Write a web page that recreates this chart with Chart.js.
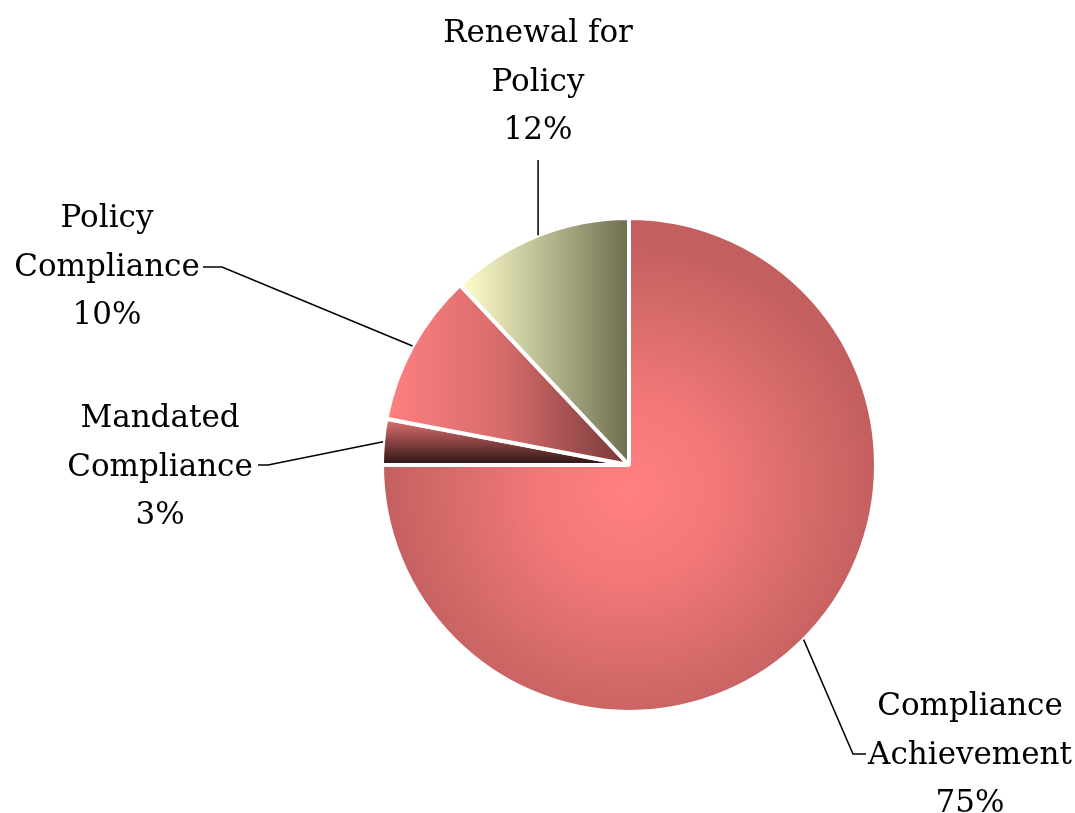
<!DOCTYPE html>
<html>
<head>
<meta charset="utf-8">
<script src="https://cdn.jsdelivr.net/npm/chart.js@4/dist/chart.umd.min.js"></script>
<style>
  html, body { margin: 0; padding: 0; background: #fff; }
  #wrap { width: 1075px; height: 813px; position: relative; }
</style>
</head>
<body>
<div id="wrap"><canvas id="pieChart"></canvas></div>
<script>
// categories (each label split into its lines) and values
const categories = [
  ['Compliance', 'Achievement'],
  ['Mandated', 'Compliance'],
  ['Policy', 'Compliance'],
  ['Renewal for', 'Policy']
];
const shares = [75, 3, 10, 12];

// where each label sits and how its leader line bends
const labelLayout = [
  { x: 970, y: 715, elbow: [853, 754], end: [866, 754] },
  { x: 160, y: 427, elbow: [268, 465], end: [258, 465] },
  { x: 107, y: 227, elbow: [222, 267], end: [203, 267] },
  { x: 538, y: 42, elbow: null, end: null, top: 160 }
];

// gradient fill per slice, built from the pie geometry
function sliceFill(context) {
  const chart = context.chart;
  const area = chart.chartArea;
  const i = context.dataIndex;
  const flat = ['#e07070', '#803838', '#d06868', '#b8b890'];
  if (!area) return flat[i];
  const c = chart.ctx;
  const cx = (area.left + area.right) / 2;
  const cy = (area.top + area.bottom) / 2;
  const r = Math.min(area.right - area.left, area.bottom - area.top) / 2;
  let g;
  if (i === 0) {
    g = c.createRadialGradient(cx, cy + 25, 0, cx, cy + 25, r);
    g.addColorStop(0, '#ff8080');
    g.addColorStop(0.35, '#f47878');
    g.addColorStop(0.75, '#d46a6a');
    g.addColorStop(1, '#c45f5f');
  } else if (i === 1) {
    g = c.createLinearGradient(0, cy - r * 0.19, 0, cy);
    g.addColorStop(0, '#e47676');
    g.addColorStop(0.5, '#8c4444');
    g.addColorStop(1, '#2c1414');
  } else if (i === 2) {
    g = c.createLinearGradient(cx - r * 0.97, 0, cx, 0);
    g.addColorStop(0, '#ff8080');
    g.addColorStop(0.5, '#d46a6a');
    g.addColorStop(1, '#763838');
  } else {
    g = c.createLinearGradient(cx - r * 0.66, 0, cx, 0);
    g.addColorStop(0, '#fcfcca');
    g.addColorStop(0.5, '#b8b890');
    g.addColorStop(1, '#6e6e50');
  }
  return g;
}

// leader lines and multi-line labels
const calloutPlugin = {
  id: 'callouts',
  afterDraw(chart) {
    const ctx = chart.ctx;
    const meta = chart.getDatasetMeta(0);
    const total = shares.reduce((a, b) => a + b, 0);
    ctx.save();
    ctx.strokeStyle = '#000';
    ctx.lineWidth = 1.5;
    meta.data.forEach((arc, i) => {
      const p = arc.getProps(['x', 'y', 'startAngle', 'endAngle', 'outerRadius'], true);
      const mid = (p.startAngle + p.endAngle) / 2;
      const ax = p.x + Math.cos(mid) * p.outerRadius;
      const ay = p.y + Math.sin(mid) * p.outerRadius;
      const lay = labelLayout[i];
      ctx.beginPath();
      ctx.moveTo(ax, ay);
      if (lay.elbow) {
        ctx.lineTo(lay.elbow[0], lay.elbow[1]);
        ctx.lineTo(lay.end[0], lay.end[1]);
      } else {
        ctx.lineTo(ax, lay.top);
      }
      ctx.stroke();

      const lines = categories[i].concat([Math.round(shares[i] / total * 100) + '%']);
      ctx.fillStyle = '#000';
      ctx.font = '31px "DejaVu Serif"';
      ctx.textAlign = 'center';
      ctx.textBaseline = 'alphabetic';
      lines.forEach((t, k) => ctx.fillText(t, lay.x, lay.y + k * 48.5));
    });
    ctx.restore();
  }
};

const ctxPie = document.getElementById('pieChart').getContext('2d');
new Chart(ctxPie, {
  type: 'pie',
  data: {
    labels: categories.map(l => l.join(' ')),
    datasets: [{
      data: shares,
      backgroundColor: sliceFill,
      borderColor: '#fff',
      borderWidth: 4
    }]
  },
  options: {
    responsive: true,
    maintainAspectRatio: false,
    animation: false,
    layout: { padding: { left: 380, right: 197, top: 216, bottom: 99 } },
    plugins: {
      legend: { display: false },
      tooltip: { enabled: false }
    }
  },
  plugins: [calloutPlugin]
});
</script>
</body>
</html>
